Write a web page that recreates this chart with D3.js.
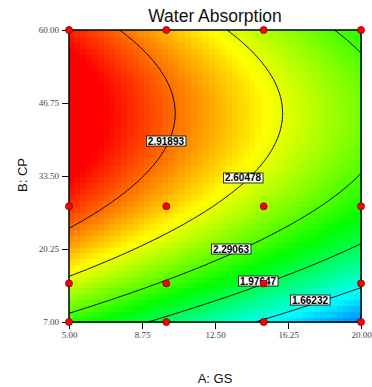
<!DOCTYPE html>
<html><head><meta charset="utf-8">
<script src="https://cdn.jsdelivr.net/npm/d3@7"></script>
<style>body{margin:0;background:#fff}svg{display:block}</style>
</head><body><svg id="c" width="372" height="387"></svg>
<script>
const title = "Water Absorption";
const xLabel = "A: GS", yLabel = "B: CP";
const xTicks = [5, 8.75, 12.5, 16.25, 20];
const yTicks = [7, 20.25, 33.5, 46.75, 60];
const xDomain = [5, 20], yDomain = [7, 60];
// quadratic response-surface model in coded units
const coefNames = ["Intercept", "A", "B", "AB", "A^2", "B^2"];
const coefValues = [2.710, -0.427, 0.430, 0.000, 0.000, -0.500];
const contourLevels = [1.66232, 1.97647, 2.29063, 2.60478, 2.91893];
const labelA = [17.38, 14.71, 13.32, 13.94, 9.98];
const labelB = [10.99, 14.44, 20.25, 33.14, 39.85];
const designA = [5, 10, 15, 20, 5, 10, 15, 20, 5, 10, 15, 20, 5, 10, 15, 20];
const designB = [60, 60, 60, 60, 28, 28, 28, 28, 14, 14, 14, 14, 7, 7, 7, 7];
const colorStops = [1.10, 1.64, 2.14, 2.65, 3.12];
const colorNames = ["#0000ff", "#00ffff", "#00ff00", "#ffff00", "#ff0000"];

const svg = d3.select("#c");
const L = 69, R = 361, T = 30, B = 322;
const x = d3.scaleLinear().domain(xDomain).range([L, R]);
const y = d3.scaleLinear().domain(yDomain).range([B, T]);
const color = d3.scaleLinear().domain(colorStops).range(colorNames).clamp(true);

function model(A, Bv) {
  const a = (A - 12.5) / 7.5, b = (Bv - 33.5) / 26.5;
  const c = coefValues;
  return c[0] + c[1]*a + c[2]*b + c[3]*a*b + c[4]*a*a + c[5]*b*b;
}

// heat map cells
const nc = 50;
const cells = [];
for (let j = 0; j < nc; j++) for (let i = 0; i < nc; i++) {
  const a0 = xDomain[0] + (xDomain[1]-xDomain[0]) * i / nc;
  const a1 = xDomain[0] + (xDomain[1]-xDomain[0]) * (i+1) / nc;
  const b0 = yDomain[0] + (yDomain[1]-yDomain[0]) * j / nc;
  const b1 = yDomain[0] + (yDomain[1]-yDomain[0]) * (j+1) / nc;
  cells.push({a0, a1, b0, b1, v: model((a0+a1)/2, (b0+b1)/2)});
}
svg.append("g").attr("shape-rendering", "crispEdges").selectAll("rect").data(cells).join("rect")
  .attr("x", d => Math.floor(x(d.a0))).attr("y", d => Math.floor(y(d.b1)))
  .attr("width", d => Math.ceil(x(d.a1)) - Math.floor(x(d.a0)) + 0.5)
  .attr("height", d => Math.ceil(y(d.b0)) - Math.floor(y(d.b1)) + 0.5)
  .attr("fill", d => color(d.v));

// contours
const n = 200;
const grid = new Array(n*n);
for (let j = 0; j < n; j++) for (let i = 0; i < n; i++) {
  const A = xDomain[0] + (xDomain[1]-xDomain[0]) * i/(n-1);
  const Bv = yDomain[1] - (yDomain[1]-yDomain[0]) * j/(n-1);
  grid[j*n+i] = model(A, Bv);
}
const conts = d3.contours().size([n, n]).thresholds(contourLevels)(grid);
const proj = d3.geoTransform({point: function(px, py) {
  this.stream.point(L + (px-0.5)/(n-1)*(R-L), T + (py-0.5)/(n-1)*(B-T));
}});
svg.append("clipPath").attr("id", "clip").append("rect").attr("x", L).attr("y", T).attr("width", R-L).attr("height", B-T);
svg.append("g").attr("clip-path", "url(#clip)").selectAll("path").data(conts).join("path")
  .attr("d", d3.geoPath(proj)).attr("fill", "none").attr("stroke", "#000").attr("stroke-width", 1);

// contour labels
const lg = svg.append("g");
contourLevels.forEach((lv, k) => {
  const cx = x(labelA[k]), cy = y(labelB[k]);
  const g = lg.append("g");
  const t = g.append("text").attr("x", cx).attr("y", cy + 3.5).attr("text-anchor", "middle")
    .attr("font-family", "Liberation Sans, Arial, sans-serif").attr("font-size", 10).attr("font-weight", "bold")
    .attr("fill", "#000").text(String(lv));
  const bb = t.node().getBBox();
  g.insert("rect", "text").attr("x", bb.x - 1.5).attr("y", cy - 5).attr("width", bb.width + 3).attr("height", 10)
    .attr("fill", "#fff").attr("stroke", "#000").attr("stroke-width", 0.8);
});

// frame
svg.append("rect").attr("x", L).attr("y", T).attr("width", R-L).attr("height", B-T)
  .attr("fill", "none").attr("stroke", "#000").attr("stroke-width", 1.5);

// axes
const fmt = d3.format(".2f");
const ax = svg.append("g").attr("transform", `translate(0,${B})`)
  .call(d3.axisBottom(x).tickValues(xTicks).tickFormat(fmt).tickSize(7).tickPadding(3));
const ay = svg.append("g").attr("transform", `translate(${L},0)`)
  .call(d3.axisLeft(y).tickValues(yTicks).tickFormat(fmt).tickSize(7).tickPadding(3));
[ax, ay].forEach(g => {
  g.select(".domain").remove();
  g.selectAll("line").attr("stroke", "#000").attr("stroke-width", 1);
  g.selectAll("text").attr("font-family", "Liberation Serif, Times New Roman, serif").attr("font-size", 9).attr("fill", "#444");
});

// design points
svg.append("g").selectAll("circle").data(designA.map((a, i) => [a, designB[i]])).join("circle")
  .attr("cx", d => x(d[0])).attr("cy", d => y(d[1])).attr("r", 3.5)
  .attr("fill", "#ff0000").attr("stroke", "#700").attr("stroke-width", 0.8);

// titles
svg.append("text").attr("x", (L+R)/2).attr("y", 22).attr("text-anchor", "middle")
  .attr("font-family", "Liberation Sans, Arial, sans-serif").attr("font-size", 17.5).attr("fill", "#111").text(title);
svg.append("text").attr("x", (L+R)/2).attr("y", 383).attr("text-anchor", "middle")
  .attr("font-family", "Liberation Sans, Arial, sans-serif").attr("font-size", 13).attr("fill", "#111").text(xLabel);
svg.append("text").attr("transform", `translate(27,175) rotate(-90)`).attr("text-anchor", "middle")
  .attr("font-family", "Liberation Sans, Arial, sans-serif").attr("font-size", 13).attr("fill", "#111").text(yLabel);
</script></body></html>
